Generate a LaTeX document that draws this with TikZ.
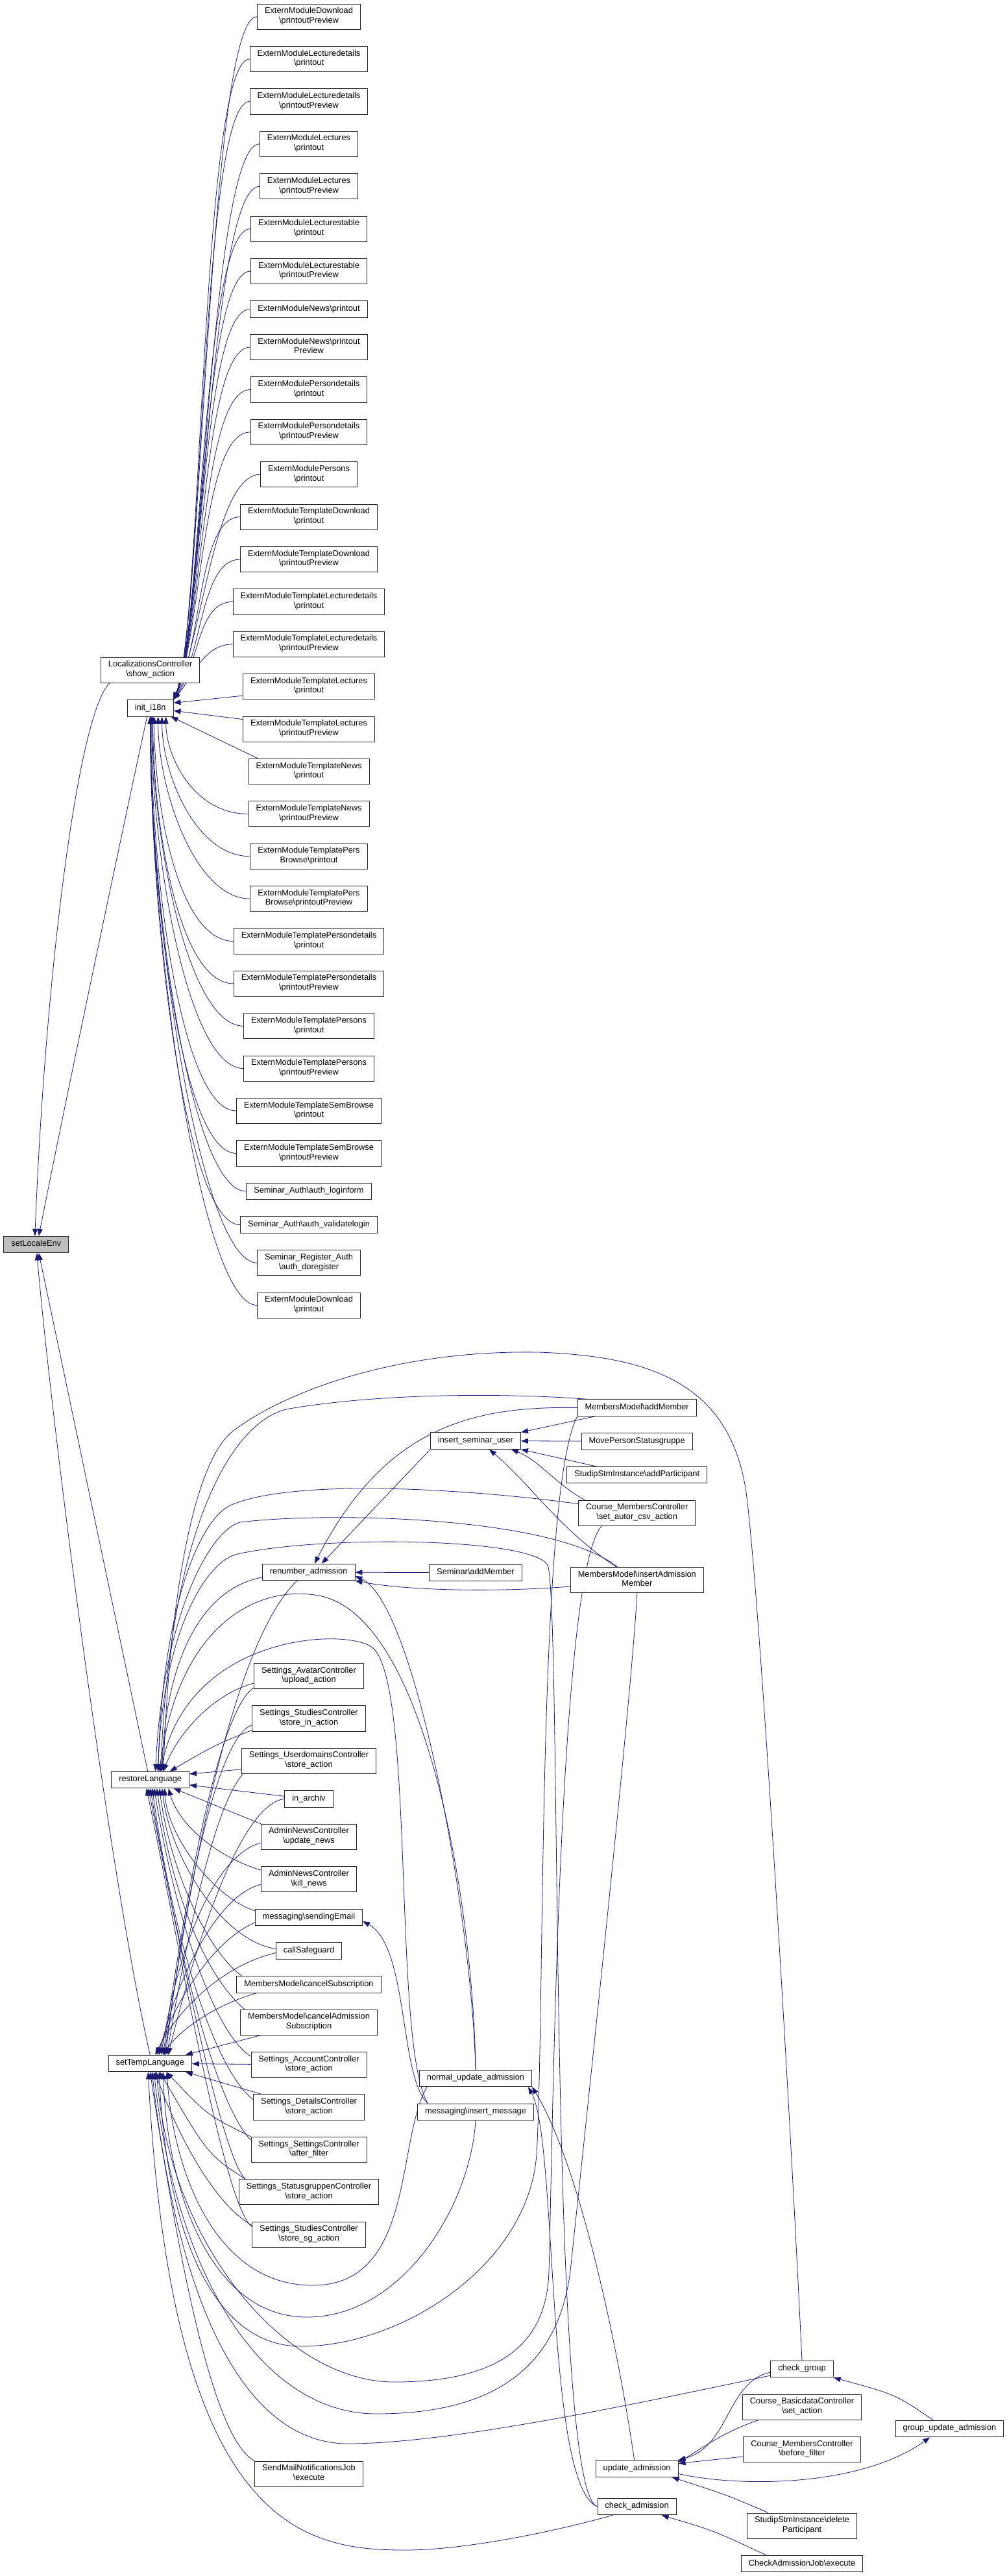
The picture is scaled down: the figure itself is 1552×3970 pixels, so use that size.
\documentclass[tikz,border=0pt]{standalone}
\usepackage{fontspec}
\setmainfont{Liberation Sans}
\usepackage{tikz}
\usetikzlibrary{arrows.meta,positioning,calc,backgrounds}
\definecolor{edgeblue}{RGB}{25,25,112}
\newcommand{\bksl}{\textbackslash}

\begin{document}
\begin{tikzpicture}[x=1pt, y=1pt, >={Triangle[length=11pt,width=8pt]}, node distance=25.3pt,
  fn/.style={draw=black!85, line width=0.9pt, fill=white, inner xsep=11.5pt, inner ysep=5.4pt, align=center,
    font=\fontsize{12.8}{14.7}\selectfont, execute at begin node=\strut, execute at end node=\strut},
  rootfn/.style={fn, fill=black!25},
  callarrow/.style={->, draw=edgeblue, line width=0.8pt}]
\useasboundingbox (0,0) rectangle (1552,-3970);

% the function and its direct callers
\node (setloc) [rootfn] at (55.8,-1918) {setLocaleEnv};
\node (lc) [fn] at (231.7,-1032.6) {LocalizationsController\\\bksl show\_action};
\node (initi) [fn] at (231.7,-1091.3) {init\_i18n};
\node (restore) [fn] at (231.7,-2743) {restoreLanguage};
\node (settemp) [fn] at (231.3,-3180) {setTempLanguage};

% callers of init_i18n
\node (em1) [fn] at (476,-25.7) {ExternModuleDownload\\\bksl printoutPreview};
\node (em2) [fn, below=of em1] {ExternModuleLecturedetails\\\bksl printout};
\node (em3) [fn, below=of em2] {ExternModuleLecturedetails\\\bksl printoutPreview};
\node (em4) [fn, below=of em3] {ExternModuleLectures\\\bksl printout};
\node (em5) [fn, below=of em4] {ExternModuleLectures\\\bksl printoutPreview};
\node (em6) [fn, below=of em5] {ExternModuleLecturestable\\\bksl printout};
\node (em7) [fn, below=of em6] {ExternModuleLecturestable\\\bksl printoutPreview};
\node (em8) [fn, below=of em7] {ExternModuleNews\bksl printout};
\node (em9) [fn, below=of em8] {ExternModuleNews\bksl printout\\Preview};
\node (em10) [fn, below=of em9] {ExternModulePersondetails\\\bksl printout};
\node (em11) [fn, below=of em10] {ExternModulePersondetails\\\bksl printoutPreview};
\node (em12) [fn, below=of em11] {ExternModulePersons\\\bksl printout};
\node (em13) [fn, below=of em12] {ExternModuleTemplateDownload\\\bksl printout};
\node (em14) [fn, below=of em13] {ExternModuleTemplateDownload\\\bksl printoutPreview};
\node (em15) [fn, below=of em14] {ExternModuleTemplateLecturedetails\\\bksl printout};
\node (em16) [fn, below=of em15] {ExternModuleTemplateLecturedetails\\\bksl printoutPreview};
\node (em17) [fn, below=of em16] {ExternModuleTemplateLectures\\\bksl printout};
\node (em18) [fn, below=of em17] {ExternModuleTemplateLectures\\\bksl printoutPreview};
\node (em19) [fn, below=of em18] {ExternModuleTemplateNews\\\bksl printout};
\node (em20) [fn, below=of em19] {ExternModuleTemplateNews\\\bksl printoutPreview};
\node (em21) [fn, below=of em20] {ExternModuleTemplatePers\\Browse\bksl printout};
\node (em22) [fn, below=of em21] {ExternModuleTemplatePers\\Browse\bksl printoutPreview};
\node (em23) [fn, below=of em22] {ExternModuleTemplatePersondetails\\\bksl printout};
\node (em24) [fn, below=of em23] {ExternModuleTemplatePersondetails\\\bksl printoutPreview};
\node (em25) [fn, below=of em24] {ExternModuleTemplatePersons\\\bksl printout};
\node (em26) [fn, below=of em25] {ExternModuleTemplatePersons\\\bksl printoutPreview};
\node (em27) [fn, below=of em26] {ExternModuleTemplateSemBrowse\\\bksl printout};
\node (em28) [fn, below=of em27] {ExternModuleTemplateSemBrowse\\\bksl printoutPreview};
\node (em29) [fn, below=of em28] {Seminar\_Auth\bksl auth\_loginform};
\node (em30) [fn, below=of em29] {Seminar\_Auth\bksl auth\_validatelogin};
\node (em31) [fn, below=of em30] {Seminar\_Register\_Auth\\\bksl auth\_doregister};
\node (em32) [fn, below=of em31] {ExternModuleDownload\\\bksl printout};

% callers of restoreLanguage / setTempLanguage
\node (renumber) [fn] at (475.7,-2423) {renumber\_admission};
\node (avatar) [fn] at (476,-2583) {Settings\_AvatarController\\\bksl upload\_action};
\node (studin) [fn, below=of avatar] {Settings\_StudiesController\\\bksl store\_in\_action};
\node (userdom) [fn, below=of studin] {Settings\_UserdomainsController\\\bksl store\_action};
\node (inarchiv) [fn, below=of userdom] {in\_archiv};
\node (newsupd) [fn, below=of inarchiv] {AdminNewsController\\\bksl update\_news};
\node (newskill) [fn, below=of newsupd] {AdminNewsController\\\bksl kill\_news};
\node (sendem) [fn, below=of newskill] {messaging\bksl sendingEmail};
\node (safeguard) [fn, below=of sendem] {callSafeguard};
\node (cancelsub) [fn, below=of safeguard] {MembersModel\bksl cancelSubscription};
\node (canceladm) [fn, below=of cancelsub] {MembersModel\bksl cancelAdmission\\Subscription};
\node (account) [fn, below=of canceladm] {Settings\_AccountController\\\bksl store\_action};
\node (details) [fn, below=of account] {Settings\_DetailsController\\\bksl store\_action};
\node (settings) [fn, below=of details] {Settings\_SettingsController\\\bksl after\_filter};
\node (statusgr) [fn, below=of settings] {Settings\_StatusgruppenController\\\bksl store\_action};
\node (studsg) [fn, below=of statusgr] {Settings\_StudiesController\\\bksl store\_sg\_action};
\node (smjob) [fn] at (476,-3812.5) {SendMailNotificationsJob\\\bksl execute};

\node (insseminar) [fn] at (733,-2220.5) {insert\_seminar\_user};
\node (semadd) [fn] at (733,-2423.7) {Seminar\bksl addMember};
\node (normupd) [fn] at (733,-3203) {normal\_update\_admission};
\node (insmsg) [fn, below=of normupd] {messaging\bksl insert\_message};

\node (addmem) [fn] at (981.7,-2169.6) {MembersModel\bksl addMember};
\node (movep) [fn, below=of addmem] {MovePersonStatusgruppe};
\node (addpart) [fn, below=of movep] {StudipStmInstance\bksl addParticipant};
\node (cmcaut) [fn, below=of addpart] {Course\_MembersController\\\bksl set\_autor\_csv\_action};
\node (insadm) [fn] at (981.8,-2435) {MembersModel\bksl insertAdmission\\Member};
\node (updadm) [fn] at (981.6,-3804.5) {update\_admission};
\node (checkadm) [fn] at (981.6,-3863) {check\_admission};

\node (cgroup) [fn] at (1236,-3651) {check\_group};
\node (basic) [fn, below=of cgroup] {Course\_BasicdataController\\\bksl set\_action};
\node (cmcbef) [fn, below=of basic] {Course\_MembersController\\\bksl before\_filter};
\node (delpart) [fn] at (1236,-3892.5) {StudipStmInstance\bksl delete\\Participant};
\node (cajob) [fn, below=of delpart] {CheckAdmissionJob\bksl execute};
\node (grpupd) [fn] at (1463.4,-3743) {group\_update\_admission};

\begin{scope}[on background layer]
% into setLocaleEnv
\draw[callarrow] ($(lc.south west)+(14,0)$) .. controls (120,-1100) and (70,-1500) .. ([xshift=-2]setloc.north);
\draw[callarrow] ([xshift=-5]initi.south) .. controls (195,-1250) and (100,-1700) .. ([xshift=4]setloc.north);
\draw[callarrow] ([xshift=-4]restore.north) -- ([xshift=4]setloc.south);
\draw[callarrow] (settemp.north) .. controls (170,-2900) and (80,-2200) .. ([xshift=1]setloc.south);

% into init_i18n
\draw[callarrow] (em1.west) .. controls +(-75,0) and +(45,110) .. (initi.north east);
\draw[callarrow] (em2.west) .. controls +(-75,0) and +(45,110) .. (initi.north east);
\draw[callarrow] (em3.west) .. controls +(-75,0) and +(45,110) .. (initi.north east);
\draw[callarrow] (em4.west) .. controls +(-75,0) and +(45,110) .. (initi.north east);
\draw[callarrow] (em5.west) .. controls +(-75,0) and +(45,110) .. (initi.north east);
\draw[callarrow] (em6.west) .. controls +(-75,0) and +(45,110) .. (initi.north east);
\draw[callarrow] (em7.west) .. controls +(-75,0) and +(45,110) .. (initi.north east);
\draw[callarrow] (em8.west) .. controls +(-75,0) and +(45,110) .. (initi.north east);
\draw[callarrow] (em9.west) .. controls +(-75,0) and +(45,110) .. (initi.north east);
\draw[callarrow] (em10.west) .. controls +(-75,0) and +(45,110) .. (initi.north east);
\draw[callarrow] (em11.west) .. controls +(-75,0) and +(45,110) .. (initi.north east);
\draw[callarrow] (em12.west) .. controls +(-70,0) and +(45,100) .. (initi.north east);
\draw[callarrow] (em13.west) .. controls +(-65,0) and +(45,90) .. (initi.north east);
\draw[callarrow] (em14.west) .. controls +(-60,0) and +(45,75) .. (initi.north east);
\draw[callarrow] (em15.west) .. controls +(-55,0) and +(40,55) .. (initi.north east);
\draw[callarrow] (em16.west) .. controls +(-45,0) and +(30,35) .. (initi.north east);
\draw[callarrow] ([yshift=-14]em17.west) -- ([yshift=8]initi.east);
\draw[callarrow] ([yshift=15]em18.west) -- ([yshift=-4]initi.east);
\draw[callarrow] ([xshift=15]em19.north west) -- ([xshift=-4]initi.south east);
\draw[callarrow] (em20.west) .. controls +(-85,0) and +(0,-60) .. ([xshift=24]initi.south);
\draw[callarrow] (em21.west) .. controls +(-85,0) and +(0,-86) .. ([xshift=18]initi.south);
\draw[callarrow] (em22.west) .. controls +(-85,0) and +(0,-112) .. ([xshift=12]initi.south);
\draw[callarrow] (em23.west) .. controls +(-85,0) and +(0,-138) .. ([xshift=6]initi.south);
\draw[callarrow] (em24.west) .. controls +(-85,0) and +(0,-164) .. ([xshift=4]initi.south);
\draw[callarrow] (em25.west) .. controls +(-85,0) and +(0,-190) .. ([xshift=3]initi.south);
\draw[callarrow] (em26.west) .. controls +(-85,0) and +(0,-217) .. ([xshift=2]initi.south);
\draw[callarrow] (em27.west) .. controls +(-85,0) and +(0,-243) .. ([xshift=1]initi.south);
\draw[callarrow] (em28.west) .. controls +(-85,0) and +(0,-269) .. (initi.south);
\draw[callarrow] (em29.west) .. controls +(-85,0) and +(0,-292) .. (initi.south);
\draw[callarrow] (em30.west) .. controls +(-85,0) and +(0,-313) .. (initi.south);
\draw[callarrow] (em31.west) .. controls +(-85,0) and +(0,-336) .. (initi.south);
\draw[callarrow] (em32.west) .. controls +(-85,0) and +(0,-362) .. (initi.south);

% admission functions
\draw[callarrow] (semadd) -- (renumber);
\draw[callarrow] ([yshift=-10]insadm.west) .. controls (750,-2455) and (620,-2450) .. (renumber.south east);
\draw[callarrow] (normupd.north) .. controls (727,-2950) and (640,-2470) .. ([yshift=-6]renumber.east);
\draw[callarrow] (insseminar.south west) -- ([xshift=20]renumber.north);
\draw[callarrow] (addmem.west) .. controls (720,-2166) and (590,-2205) .. ([xshift=9]renumber.north);
\draw[callarrow] ([xshift=27]addmem.south west) -- (insseminar.north east);
\draw[callarrow] (movep) -- (insseminar);
\draw[callarrow] ([xshift=45]addpart.north west) -- (insseminar.south east);
\draw[callarrow] ([xshift=10]cmcaut.north west) .. controls (860,-2290) and (830,-2250) .. ([xshift=-15]insseminar.south east);
\draw[callarrow] ([xshift=-32]insadm.north) .. controls (860,-2355) and (820,-2290) .. ([xshift=21]insseminar.south);
\draw[callarrow] ([xshift=16]insmsg.north west) .. controls (615,-3200) and (630,-3000) .. ([yshift=-6]sendem.east);
\draw[callarrow] ([xshift=-4]updadm.north) .. controls (950,-3600) and (890,-3330) .. (normupd.south east);
\draw[callarrow] (checkadm.west) .. controls (840,-3830) and (860,-3300) .. ([xshift=-6]normupd.south east);
\draw[callarrow] ([yshift=-5]cgroup.west) .. controls (1120,-3670) and (1125,-3770) .. (updadm.north east);
\draw[callarrow] ([xshift=25]basic.south west) .. controls (1110,-3750) and (1080,-3775) .. ([yshift=-3]updadm.north east);
\draw[callarrow] ([yshift=-11]cmcbef.west) -- ([yshift=8]updadm.east);
\draw[callarrow] ([xshift=-52]delpart.north) .. controls (1120,-3845) .. ([xshift=-10]updadm.south east);
\draw[callarrow] ([yshift=-8]updadm.east) .. controls (1150,-3835) and (1330,-3830) .. ([xshift=-30]grpupd.south);
\draw[callarrow] ([xshift=-25]grpupd.north) .. controls (1380,-3690) .. (cgroup.south east);
\draw[callarrow] ([xshift=-55]cajob.north) .. controls (1100,-3900) .. ([xshift=38]checkadm.south);

% into restoreLanguage from the right
\draw[callarrow] (cgroup.north) .. controls (1215,-3200) and (1170,-2450) .. (1150,-2300) .. controls (1125,-2130) and (1000,-2090) .. (830,-2084) .. controls (600,-2080) and (430,-2150) .. (357,-2207) .. controls (300,-2255) and (262,-2450) .. ([xshift=20]restore.north);
\draw[callarrow] ([xshift=16]addmem.north west) .. controls (800,-2148) and (600,-2145) .. (446,-2171) .. controls (360,-2186) and (262,-2350) .. ([xshift=16]restore.north);
\draw[callarrow] ([yshift=14]cmcaut.west) .. controls (700,-2292) and (450,-2280) .. (357,-2319) .. controls (307,-2340) and (250,-2480) .. ([xshift=12]restore.north);
\draw[callarrow] ([xshift=-30]insadm.north) .. controls (850,-2335) and (500,-2330) .. (370,-2346) .. controls (320,-2360) and (250,-2500) .. ([xshift=8]restore.north);
\draw[callarrow] (checkadm.west) .. controls (845,-3840) and (866,-2520) .. (845,-2415) .. controls (835,-2370) and (500,-2365) .. (366,-2395) .. controls (316,-2406) and (250,-2520) .. ([xshift=12]restore.north);
\draw[callarrow] (normupd.north) .. controls (730,-2950) and (660,-2490) .. (491,-2459) .. controls (400,-2442) and (275,-2500) .. ([xshift=14]restore.north);
\draw[callarrow] ([xshift=16]insmsg.north west) .. controls (605,-3150) and (640,-2600) .. (575,-2540) .. controls (540,-2508) and (290,-2515) .. ([xshift=16]restore.north);
\draw[callarrow] ([yshift=-8]renumber.west) .. controls (310,-2448) and (255,-2560) .. ([xshift=18]restore.north);
\draw[callarrow] ([yshift=-11]avatar.west) .. controls (330,-2610) and (275,-2670) .. ([xshift=20]restore.north);
\draw[callarrow] ([yshift=-18]studin.west) .. controls (330,-2690) .. ([xshift=30]restore.north);
\draw[callarrow] ([yshift=-13]userdom.west) -- ([yshift=9]restore.east);
\draw[callarrow] ([yshift=4]inarchiv.west) -- ([yshift=-8]restore.east);
\draw[callarrow] (newsupd.north west) -- ([xshift=36]restore.south);
\draw[callarrow] ([yshift=14]newskill.west) .. controls (330,-2860) and (275,-2810) .. ([xshift=28]restore.south);
\draw[callarrow] ([yshift=10]sendem.west) .. controls (330,-2925) and (258,-2830) .. ([xshift=22]restore.south);
\draw[callarrow] ([yshift=3]safeguard.west) .. controls (340,-2990) and (262,-2860) .. ([xshift=18]restore.south);
\draw[callarrow] ([xshift=8]cancelsub.north west) .. controls (318,-3005) and (262,-2880) .. ([xshift=14]restore.south);
\draw[callarrow] ([xshift=7]canceladm.north west) .. controls (310,-3040) and (262,-2900) .. ([xshift=10]restore.south);
\draw[callarrow] ([yshift=13]account.west) .. controls (325,-3130) and (265,-2930) .. ([xshift=6]restore.south);
\draw[callarrow] ([yshift=12]details.west) .. controls (330,-3190) and (265,-2980) .. ([xshift=3]restore.south);
\draw[callarrow] ([yshift=15]settings.west) .. controls (330,-3240) and (270,-2990) .. (restore.south);
\draw[callarrow] ([xshift=10]statusgr.north west) .. controls (340,-3320) and (275,-2990) .. ([xshift=-3]restore.south);
\draw[callarrow] ([yshift=12]studsg.west) .. controls (345,-3400) and (275,-2990) .. ([xshift=-6]restore.south);

% into setTempLanguage from above
\draw[callarrow] ([xshift=-18]renumber.south) .. controls (350,-2540) and (285,-2950) .. ([xshift=22]settemp.north);
\draw[callarrow] ([yshift=-18]avatar.west) .. controls (330,-2640) and (275,-3000) .. ([xshift=20]settemp.north);
\draw[callarrow] ([yshift=-10]studin.west) .. controls (330,-2680) and (280,-2960) .. ([xshift=24]settemp.north);
\draw[callarrow] ([xshift=3]userdom.south west) .. controls (330,-2780) and (285,-3000) .. ([xshift=26]settemp.north);
\draw[callarrow] (inarchiv.west) .. controls (370,-2780) and (300,-3000) .. ([xshift=28]settemp.north);
\draw[callarrow] ([yshift=-9]newsupd.west) .. controls (330,-2860) and (275,-3000) .. ([xshift=17]settemp.north);
\draw[callarrow] ([yshift=-8]newskill.west) .. controls (335,-2920) and (272,-3050) .. ([xshift=14]settemp.north);
\draw[callarrow] ([yshift=-8]sendem.west) .. controls (330,-2990) and (272,-3080) .. ([xshift=11]settemp.north);
\draw[callarrow] ([yshift=-3]safeguard.west) .. controls (340,-3030) and (272,-3100) .. ([xshift=8]settemp.north);
\draw[callarrow] ([xshift=32]cancelsub.south west) .. controls (330,-3090) and (275,-3130) .. ([xshift=20]settemp.north);
\draw[callarrow] ([xshift=31]canceladm.south west) -- ([xshift=-10]settemp.north east);
\draw[callarrow] (account) -- (settemp);
\draw[callarrow] ([xshift=13]details.north west) -- ([xshift=-10]settemp.south east);

% into setTempLanguage from below
\draw[callarrow] (settings.north west) .. controls (320,-3260) .. ([xshift=25]settemp.south);
\draw[callarrow] ([xshift=10]statusgr.north west) .. controls (320,-3320) .. ([xshift=15]settemp.south);
\draw[callarrow] ([yshift=14]studsg.west) .. controls (320,-3390) and (262,-3260) .. ([xshift=8]settemp.south);
\draw[callarrow] ([xshift=-75]normupd.south) .. controls (610,-3300) and (640,-3522) .. (482,-3522) .. controls (324,-3522) and (265,-3330) .. ([xshift=26]settemp.south);
\draw[callarrow] (insmsg.south) .. controls (725,-3400) and (620,-3571) .. (473,-3571) .. controls (326,-3571) and (258,-3380) .. ([xshift=20]settemp.south);
\draw[callarrow] (addmem.south west) .. controls (828,-2300) and (840,-3100) .. (827,-3320) .. controls (815,-3490) and (620,-3616) .. (464,-3616) .. controls (320,-3616) and (255,-3420) .. ([xshift=14]settemp.south);
\draw[callarrow] ([xshift=-54]cmcaut.south) .. controls (860,-2420) and (852,-3300) .. (846,-3500) .. controls (843,-3620) and (760,-3671) .. (607,-3671) .. controls (440,-3671) and (262,-3460) .. ([xshift=10]settemp.south);
\draw[callarrow] (insadm.south) .. controls (975,-2600) and (900,-3300) .. (879,-3500) .. controls (860,-3650) and (760,-3720) .. (580,-3720) .. controls (400,-3720) and (270,-3500) .. ([xshift=6]settemp.south);
\draw[callarrow] ([yshift=-10]cgroup.west) .. controls (1000,-3700) and (700,-3766) .. (536,-3766) .. controls (380,-3766) and (275,-3560) .. ([xshift=3]settemp.south);
\draw[callarrow] (smjob.north west) .. controls (330,-3760) and (278,-3500) .. (settemp.south);
\draw[callarrow] ([xshift=-37]checkadm.south) .. controls (860,-3900) and (720,-3930) .. (625,-3930) .. controls (470,-3930) and (265,-3900) .. ([xshift=-3]settemp.south);
\end{scope}
\end{tikzpicture}
\end{document}
